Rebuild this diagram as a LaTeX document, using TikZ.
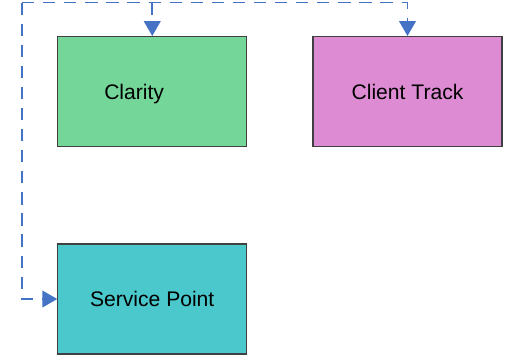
\documentclass[tikz,border=0pt]{standalone}
\usepackage{fontspec}
\setmainfont{Liberation Sans}
\usetikzlibrary{positioning}
\usetikzlibrary{arrows.meta}
\usetikzlibrary{calc}

\definecolor{clarityfill}{RGB}{116,214,152}
\definecolor{clientfill}{RGB}{221,140,211}
\definecolor{servicefill}{RGB}{74,200,204}
\definecolor{linkblue}{RGB}{68,114,196}

\begin{document}
\begin{tikzpicture}[
    x=0.02cm, y=-0.02cm,
% System box style
    system/.style={rectangle,draw=black!75,line width=0.6pt,minimum width=3.78cm,
		minimum height=2.2cm,inner sep=0pt,text depth=0pt,font={\fontsize{12pt}{14}\selectfont}},
    link/.style={draw=linkblue,line width=1.1pt,dash pattern=on 7pt off 5pt,
		-{Triangle[width=9.5pt,length=8.5pt]}},
    ]

  \useasboundingbox (0,0) rectangle (506,359);

  \node (clarity) [system,fill=clarityfill,text width=3.78cm,align=left] at (152.25,91.5) {\hspace*{0.93cm}Clarity};
  \node (client) [system,fill=clientfill] at (407.5,91.5) {Client Track};
  \node (service) [system,fill=servicefill] at (152.25,299) {Service Point};

  \coordinate (corner) at (22,2.5);
  \coordinate (branch) at (clarity.north |- corner);

  \draw[link] (corner) |- (service.west);
  \draw[link] (corner) -| (client.north);
  \draw[link] (branch) -- (clarity.north);

\end{tikzpicture}
\end{document}
